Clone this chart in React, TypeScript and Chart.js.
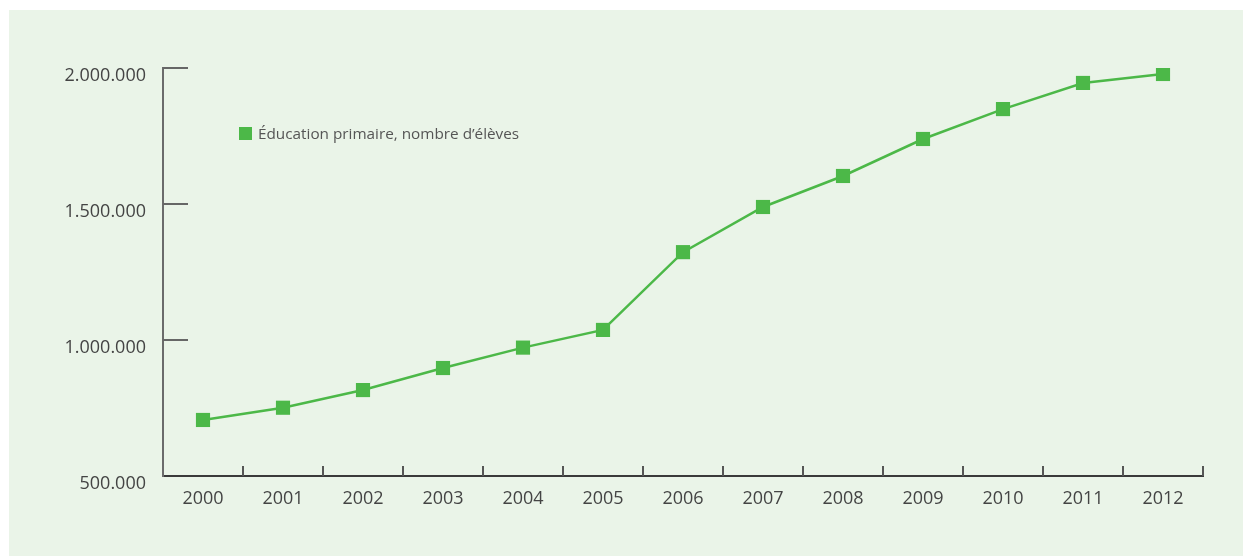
import React, { useEffect, useRef } from "react";
import { Chart, registerables } from "chart.js";

Chart.register(...registerables);

const years = ["2000","2001","2002","2003","2004","2005","2006","2007","2008","2009","2010","2011","2012"];
const pupils = [706000, 751000, 816000, 897000, 972000, 1037000, 1323000, 1489000, 1603000, 1739000, 1849000, 1945000, 1978000];
const seriesLabel = "Éducation primaire, nombre d’élèves";
const yMin = 500000;
const yMax = 2000000;
const yStep = 500000;

const GREEN = "#4cb848";
const BG = "#eaf4e8";
const FONT = "'Open Sans', sans-serif";

function fmt(v: number): string {
  return String(Math.round(v)).replace(/\B(?=(\d{3})+(?!\d))/g, ".");
}

const innerTicks = {
  id: "innerTicks",
  afterDraw(chart: any) {
    const { ctx, chartArea, scales } = chart;
    const x = scales.x;
    const y = scales.y;
    ctx.save();
    ctx.lineWidth = 2;
    ctx.strokeStyle = "#555";
    for (let i = 0; i < years.length; i++) {
      const px = Math.round(x.getPixelForValue(i + 0.5));
      ctx.beginPath();
      ctx.moveTo(px, chartArea.bottom);
      ctx.lineTo(px, chartArea.bottom - 10);
      ctx.stroke();
    }
    ctx.strokeStyle = "#666";
    y.ticks.forEach((t: any) => {
      if (t.value <= yMin) return;
      const py = Math.round(y.getPixelForValue(t.value));
      ctx.beginPath();
      ctx.moveTo(chartArea.left, py);
      ctx.lineTo(chartArea.left + 25, py);
      ctx.stroke();
    });
    ctx.restore();
  },
};

export default function App() {
  const ref = useRef<HTMLCanvasElement | null>(null);
  useEffect(() => {
    if (!ref.current) return;
    const chart = new Chart(ref.current, {
      type: "line",
      data: {
        labels: years,
        datasets: [
          {
            label: seriesLabel,
            data: pupils,
            borderColor: GREEN,
            backgroundColor: GREEN,
            borderWidth: 2.5,
            pointStyle: "rect",
            pointRadius: 10,
            pointHoverRadius: 10,
            pointBorderWidth: 0,
            pointBackgroundColor: GREEN,
            tension: 0,
          },
        ],
      },
      options: {
        animation: false,
        responsive: true,
        maintainAspectRatio: false,
        layout: { padding: { top: 58, right: 40, bottom: 0, left: 0 } },
        plugins: { legend: { display: false }, tooltip: { enabled: false } },
        scales: {
          x: {
            offset: true,
            grid: { display: true, color: "transparent", drawTicks: false, offset: true },
            border: { display: true, color: "#3a3a3a", width: 2 },
            ticks: { color: "#444", font: { family: FONT, size: 18 }, padding: 12, maxRotation: 0, autoSkip: false },
            afterFit: (s: any) => { s.height = 80; },
          },
          y: {
            min: yMin,
            max: yMax,
            grid: { display: true, color: "transparent", drawTicks: false },
            border: { display: true, color: "#6b6b6b", width: 2 },
            ticks: {
              stepSize: yStep,
              color: "#444",
              font: { family: FONT, size: 18 },
              padding: 17,
              labelOffset: 8,
              callback: (v: any) => fmt(Number(v)),
            },
            afterFit: (s: any) => { s.width = 154; },
          },
        },
      },
      plugins: [innerTicks],
    });
    return () => chart.destroy();
  }, []);

  return (
    <div style={{ position: "fixed", left: 9, top: 10, width: 1234, height: 546, background: BG }}>
      <canvas ref={ref} />
      <div
        style={{
          position: "absolute",
          left: 230,
          top: 113,
          display: "flex",
          alignItems: "center",
          fontFamily: FONT,
          fontSize: 15.3,
          color: "#555",
          whiteSpace: "nowrap",
        }}
      >
        <span style={{ display: "inline-block", width: 13, height: 13, background: GREEN, marginRight: 6 }} />
        <span>{seriesLabel}</span>
      </div>
    </div>
  );
}
